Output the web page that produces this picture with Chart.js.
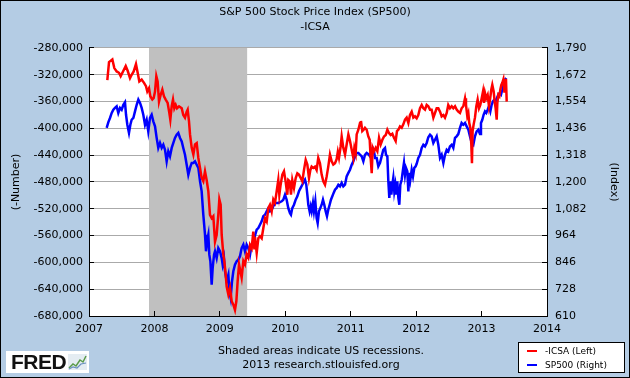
<!DOCTYPE html>
<html>
<head>
<meta charset="utf-8">
<script src="https://cdn.jsdelivr.net/npm/chart.js@4.4.1/dist/chart.umd.min.js"></script>
<style>
  body { margin: 0; }
  #wrap { position: relative; width: 630px; height: 378px; background: #B4CCE4; font-family: 'DejaVu Sans', sans-serif; overflow: hidden; }
  #chart { position: absolute; left: 0; top: 0; }
  #frame { position: absolute; left: 0; top: 0; width: 630px; height: 378px; box-sizing: border-box; border: 1px solid #000; pointer-events: none; }
  #note { position: absolute; left: 170px; top: 344px; width: 302px; text-align: center; font-size: 11px; line-height: 14px; color: #000; }
  #legend { position: absolute; left: 518px; top: 342px; width: 107px; height: 31px; box-sizing: border-box; background: #fff; border: 1px solid #000; font-size: 9px; color: #000; }
  #legend .row { position: absolute; left: 0; height: 12px; line-height: 12px; }
  #legend .sw { position: absolute; left: 8px; top: 5px; width: 10px; height: 2px; }
  #legend .tx { position: absolute; left: 26px; top: 0; white-space: nowrap; }
  #fred { position: absolute; left: 6px; top: 351px; width: 83px; height: 22px; background: #fff; }
  #fred span { position: absolute; left: 5px; top: -1px; font-family: 'Liberation Sans', sans-serif; font-weight: bold; font-size: 21px; letter-spacing: -0.5px; color: #111; }
  #fred svg { position: absolute; left: 62px; top: 3px; }
</style>
</head>
<body>
<div id="wrap">
  <canvas id="chart" width="630" height="378"></canvas>
  <div id="note">Shaded areas indicate US recessions.<br>2013 research.stlouisfed.org</div>
  <div id="legend">
    <div class="row" style="top:2px"><div class="sw" style="background:#FF0000"></div><div class="tx">-ICSA (Left)</div></div>
    <div class="row" style="top:16px"><div class="sw" style="background:#0000FF"></div><div class="tx">SP500 (Right)</div></div>
  </div>
  <div id="fred"><span>FRED</span>
    <svg width="19" height="16" viewBox="0 0 19 16">
      <rect x="0" y="0" width="19" height="16" fill="#E4ECF2"/>
      <polyline points="1,14 5,10 8,12 12,6 15,8 18,2" fill="none" stroke="#5A9A4A" stroke-width="1.5"/>
      <polyline points="1,15 5,13 9,14 13,10 18,9" fill="none" stroke="#6A8FC0" stroke-width="1.2"/>
    </svg>
  </div>
  <div id="frame"></div>
</div>
<script>
/* ================== CHART DEFAULTS ================== */
Chart.defaults.font.family = "'DejaVu Sans', sans-serif";
Chart.defaults.font.size = 11;
Chart.defaults.color = "#000";

/* ================== DATA ================== */
// weekly initial claims, shown negated (left axis)
const icsaDates = [
  2007.280, 2007.306, 2007.357, 2007.387, 2007.423, 2007.458, 2007.484, 2007.520, 2007.561, 2007.591,
  2007.627, 2007.652, 2007.683, 2007.718, 2007.744, 2007.769, 2007.805, 2007.841, 2007.871, 2007.891,
  2007.917, 2007.937, 2007.968, 2007.988, 2008.009, 2008.029, 2008.049, 2008.070, 2008.095, 2008.121,
  2008.146, 2008.172, 2008.202, 2008.228, 2008.243, 2008.264, 2008.284, 2008.304, 2008.325, 2008.345,
  2008.376, 2008.417, 2008.441, 2008.467, 2008.493, 2008.508, 2008.528, 2008.544, 2008.570, 2008.595,
  2008.620, 2008.646, 2008.671, 2008.697, 2008.722, 2008.747, 2008.773, 2008.798, 2008.824, 2008.849,
  2008.875, 2008.900, 2008.926, 2008.951, 2008.976, 2008.992, 2009.012, 2009.028, 2009.053, 2009.068,
  2009.089, 2009.104, 2009.130, 2009.155, 2009.181, 2009.206, 2009.231, 2009.252, 2009.272, 2009.293,
  2009.313, 2009.333, 2009.359, 2009.384, 2009.410, 2009.435, 2009.461, 2009.486, 2009.511, 2009.527,
  2009.537, 2009.563, 2009.588, 2009.613, 2009.639, 2009.664, 2009.690, 2009.716, 2009.741, 2009.766,
  2009.792, 2009.817, 2009.843, 2009.868, 2009.893, 2009.909, 2009.929, 2009.955, 2009.980, 2010.005,
  2010.031, 2010.046, 2010.067, 2010.087, 2010.107, 2010.133, 2010.159, 2010.184, 2010.209, 2010.235,
  2010.260, 2010.286, 2010.312, 2010.337, 2010.362, 2010.383, 2010.403, 2010.428, 2010.454, 2010.479,
  2010.504, 2010.530, 2010.556, 2010.581, 2010.607, 2010.632, 2010.657, 2010.683, 2010.709, 2010.734,
  2010.760, 2010.785, 2010.803, 2010.821, 2010.846, 2010.862, 2010.887, 2010.913, 2010.938, 2010.964,
  2010.989, 2011.015, 2011.040, 2011.056, 2011.076, 2011.091, 2011.117, 2011.142, 2011.157, 2011.177,
  2011.198, 2011.218, 2011.244, 2011.269, 2011.290, 2011.305, 2011.321, 2011.336, 2011.356, 2011.382,
  2011.407, 2011.433, 2011.458, 2011.484, 2011.509, 2011.535, 2011.560, 2011.585, 2011.611, 2011.636,
  2011.661, 2011.687, 2011.707, 2011.728, 2011.753, 2011.779, 2011.804, 2011.830, 2011.855, 2011.881,
  2011.906, 2011.932, 2011.957, 2011.982, 2012.008, 2012.033, 2012.059, 2012.085, 2012.110, 2012.135,
  2012.161, 2012.186, 2012.212, 2012.237, 2012.263, 2012.288, 2012.314, 2012.339, 2012.365, 2012.390,
  2012.416, 2012.441, 2012.467, 2012.491, 2012.517, 2012.543, 2012.568, 2012.594, 2012.619, 2012.644,
  2012.670, 2012.695, 2012.721, 2012.747, 2012.762, 2012.782, 2012.798, 2012.812, 2012.828, 2012.843,
  2012.853, 2012.863, 2012.879, 2012.899, 2012.920, 2012.940, 2012.961, 2012.981, 2013.002, 2013.022,
  2013.037, 2013.052, 2013.072, 2013.093, 2013.113, 2013.129, 2013.149, 2013.164, 2013.185, 2013.200,
  2013.215, 2013.231, 2013.241, 2013.256, 2013.272, 2013.287, 2013.302, 2013.317, 2013.333, 2013.348,
  2013.358, 2013.373, 2013.384
];
const icsaValues = [
  -328000, -301000, -297000, -310000, -315000, -317000, -322000, -315000, -307000, -314000,
  -325000, -320000, -315000, -304000, -317000, -330000, -327000, -332000, -337000, -345000,
  -340000, -352000, -357000, -355000, -345000, -322000, -330000, -360000, -350000, -342000,
  -352000, -357000, -362000, -377000, -387000, -367000, -357000, -370000, -365000, -370000,
  -367000, -370000, -380000, -384000, -375000, -372000, -389000, -409000, -429000, -439000,
  -424000, -422000, -444000, -459000, -474000, -479000, -464000, -477000, -494000, -529000,
  -534000, -531000, -569000, -559000, -529000, -506000, -514000, -559000, -588000, -598000,
  -618000, -636000, -648000, -638000, -658000, -663000, -671000, -658000, -628000, -603000,
  -613000, -623000, -598000, -603000, -588000, -593000, -574000, -579000, -554000, -579000,
  -562000, -586000, -564000, -561000, -564000, -549000, -534000, -539000, -519000, -514000,
  -524000, -506000, -511000, -494000, -477000, -499000, -484000, -469000, -464000, -479000,
  -499000, -477000, -479000, -499000, -477000, -489000, -474000, -467000, -469000, -474000,
  -479000, -462000, -447000, -454000, -474000, -462000, -457000, -459000, -457000, -462000,
  -444000, -452000, -469000, -479000, -484000, -472000, -457000, -439000, -449000, -454000,
  -452000, -446000, -435000, -444000, -427000, -412000, -429000, -439000, -424000, -409000,
  -419000, -432000, -444000, -429000, -437000, -409000, -402000, -392000, -389000, -404000,
  -402000, -399000, -402000, -412000, -417000, -444000, -467000, -429000, -434000, -429000,
  -434000, -414000, -424000, -417000, -412000, -410000, -402000, -407000, -410000, -408000,
  -414000, -419000, -404000, -402000, -397000, -399000, -394000, -387000, -384000, -392000,
  -380000, -375000, -384000, -382000, -385000, -380000, -370000, -365000, -370000, -372000,
  -365000, -367000, -372000, -372000, -384000, -377000, -370000, -370000, -375000, -382000,
  -380000, -384000, -377000, -365000, -370000, -367000, -370000, -367000, -372000, -375000,
  -377000, -370000, -367000, -355000, -365000, -382000, -377000, -392000, -399000, -424000,
  -452000, -404000, -394000, -384000, -367000, -357000, -370000, -365000, -355000, -345000,
  -362000, -347000, -355000, -350000, -367000, -357000, -342000, -335000, -345000, -360000,
  -370000, -387000, -362000, -350000, -352000, -342000, -335000, -332000, -327000, -345000,
  -337000, -326000, -360000
];

// S&P 500 index level (right axis)
const spDates = [
  2007.270, 2007.296, 2007.321, 2007.347, 2007.372, 2007.397, 2007.423, 2007.448, 2007.474, 2007.499,
  2007.525, 2007.550, 2007.566, 2007.586, 2007.611, 2007.632, 2007.652, 2007.678, 2007.703, 2007.729,
  2007.754, 2007.780, 2007.805, 2007.830, 2007.856, 2007.881, 2007.906, 2007.932, 2007.958, 2007.983,
  2008.009, 2008.034, 2008.059, 2008.085, 2008.111, 2008.136, 2008.162, 2008.187, 2008.212, 2008.238,
  2008.264, 2008.289, 2008.314, 2008.340, 2008.365, 2008.391, 2008.417, 2008.441, 2008.467, 2008.493,
  2008.518, 2008.544, 2008.570, 2008.595, 2008.620, 2008.646, 2008.671, 2008.697, 2008.722, 2008.747,
  2008.773, 2008.788, 2008.804, 2008.824, 2008.839, 2008.855, 2008.875, 2008.890, 2008.911, 2008.926,
  2008.951, 2008.976, 2009.002, 2009.028, 2009.043, 2009.063, 2009.079, 2009.104, 2009.130, 2009.145,
  2009.165, 2009.186, 2009.206, 2009.231, 2009.257, 2009.282, 2009.308, 2009.333, 2009.359, 2009.384,
  2009.410, 2009.435, 2009.461, 2009.486, 2009.511, 2009.537, 2009.563, 2009.588, 2009.613, 2009.639,
  2009.664, 2009.690, 2009.716, 2009.741, 2009.766, 2009.792, 2009.817, 2009.843, 2009.893, 2009.945,
  2009.970, 2009.996, 2010.021, 2010.046, 2010.072, 2010.087, 2010.107, 2010.133, 2010.159, 2010.184,
  2010.209, 2010.235, 2010.260, 2010.286, 2010.301, 2010.321, 2010.337, 2010.352, 2010.372, 2010.388,
  2010.403, 2010.423, 2010.438, 2010.459, 2010.479, 2010.495, 2010.515, 2010.535, 2010.556, 2010.576,
  2010.596, 2010.617, 2010.637, 2010.657, 2010.678, 2010.698, 2010.719, 2010.739, 2010.760, 2010.785,
  2010.811, 2010.836, 2010.862, 2010.887, 2010.913, 2010.938, 2010.964, 2010.989, 2011.015, 2011.040,
  2011.066, 2011.091, 2011.117, 2011.142, 2011.168, 2011.193, 2011.218, 2011.244, 2011.269, 2011.295,
  2011.321, 2011.336, 2011.356, 2011.372, 2011.397, 2011.422, 2011.448, 2011.473, 2011.498, 2011.524,
  2011.539, 2011.560, 2011.575, 2011.590, 2011.605, 2011.621, 2011.636, 2011.651, 2011.666, 2011.682,
  2011.697, 2011.712, 2011.728, 2011.743, 2011.758, 2011.779, 2011.799, 2011.814, 2011.830, 2011.845,
  2011.865, 2011.881, 2011.896, 2011.911, 2011.932, 2011.952, 2011.972, 2011.993, 2012.008, 2012.033,
  2012.059, 2012.085, 2012.110, 2012.135, 2012.161, 2012.186, 2012.212, 2012.237, 2012.263, 2012.288,
  2012.314, 2012.339, 2012.365, 2012.390, 2012.416, 2012.441, 2012.467, 2012.491, 2012.517, 2012.543,
  2012.568, 2012.594, 2012.619, 2012.644, 2012.670, 2012.695, 2012.721, 2012.747, 2012.772, 2012.798,
  2012.823, 2012.849, 2012.874, 2012.899, 2012.925, 2012.950, 2012.976, 2012.991, 2013.011, 2013.031,
  2013.052, 2013.072, 2013.093, 2013.113, 2013.134, 2013.154, 2013.174, 2013.195, 2013.215, 2013.235,
  2013.256, 2013.276, 2013.297, 2013.317, 2013.337, 2013.358, 2013.378
];
const spValues = [
  1438, 1464, 1482, 1504, 1518, 1526, 1533, 1504, 1526, 1518,
  1540, 1551, 1496, 1452, 1416, 1452, 1474, 1482, 1511, 1540,
  1563, 1548, 1526, 1496, 1452, 1474, 1423, 1482, 1496, 1467,
  1445, 1394, 1350, 1372, 1350, 1364, 1342, 1291, 1335, 1313,
  1350, 1372, 1394, 1408, 1416, 1394, 1379, 1350, 1320, 1276,
  1232, 1262, 1284, 1284, 1291, 1276, 1262, 1203, 1159, 1056,
  968, 895, 939, 968, 880, 851, 748, 821, 880, 895,
  865, 909, 895, 865, 836, 865, 807, 763, 792, 719,
  689, 763, 807, 836, 851, 858, 873, 909, 924, 895,
  924, 909, 880, 924, 939, 964, 990, 997, 1012, 1027,
  1049, 1056, 1071, 1085, 1071, 1078, 1093, 1108, 1108, 1115,
  1122, 1144, 1122, 1085, 1063, 1056, 1085, 1100, 1122, 1137,
  1159, 1174, 1188, 1203, 1210, 1188, 1144, 1100, 1071, 1093,
  1071, 1108, 1071, 1115, 1041, 1019, 1071, 1085, 1100, 1122,
  1100, 1071, 1049, 1078, 1100, 1122, 1137, 1152, 1166, 1174,
  1188, 1181, 1196, 1181, 1188, 1225, 1240, 1254, 1276, 1291,
  1313, 1328, 1328, 1320, 1313, 1291, 1320, 1328, 1323, 1313,
  1342, 1350, 1335, 1306, 1306, 1269, 1284, 1313, 1342, 1350,
  1320, 1313, 1203, 1130, 1203, 1144, 1188, 1218, 1159, 1188,
  1144, 1203, 1130, 1100, 1188, 1210, 1254, 1284, 1232, 1262,
  1247, 1159, 1240, 1210, 1254, 1225, 1262, 1269, 1280, 1306,
  1320, 1350, 1364, 1357, 1372, 1397, 1408, 1401, 1372, 1386,
  1401, 1364, 1306, 1320, 1284, 1320, 1342, 1335, 1357, 1364,
  1350, 1394, 1401, 1411, 1438, 1460, 1452, 1460, 1445, 1430,
  1401, 1372, 1364, 1401, 1423, 1430, 1411, 1460, 1474, 1496,
  1511, 1504, 1518, 1533, 1511, 1540, 1555, 1563, 1555, 1570,
  1585, 1592, 1585, 1607, 1636, 1651, 1658
];

// recession (Dec 2007 - Jun 2009)
const recessionStart = [2007.917];
const recessionEnd = [2009.417];

const chartTitle = ["S&P 500 Stock Price Index (SP500)", "-ICSA"];

/* ================== PLUGIN: plot background + recession bars ================== */
const shadingPlugin = {
  id: "shading",
  beforeDraw(chart) {
    const { ctx, chartArea: a } = chart;
    ctx.save();
    ctx.fillStyle = "#FFFFFF";
    ctx.fillRect(a.left, a.top, a.width, a.height);
    ctx.restore();
  },
  beforeDatasetsDraw(chart) {
    const { ctx, chartArea: a, scales } = chart;
    ctx.save();
    ctx.fillStyle = "#C0C0C0";
    recessionStart.forEach((s, i) => {
      const x1 = scales.x.getPixelForValue(s);
      const x2 = scales.x.getPixelForValue(recessionEnd[i]);
      ctx.fillRect(x1, a.top, x2 - x1, a.height);
    });
    ctx.restore();
  }
};

/* ================== CHART ================== */
new Chart(document.getElementById("chart"), {
  type: "line",
  data: {
    datasets: [
      {
        label: "-ICSA (Left)",
        data: icsaDates.map((d, i) => ({ x: d, y: icsaValues[i] })),
        yAxisID: "yLeft",
        borderColor: "#FF0000",
        borderWidth: 2.5,
        pointRadius: 0,
        tension: 0
      },
      {
        label: "SP500 (Right)",
        data: spDates.map((d, i) => ({ x: d, y: spValues[i] })),
        yAxisID: "yRight",
        borderColor: "#0000FF",
        borderWidth: 2.5,
        pointRadius: 0,
        tension: 0
      }
    ]
  },
  options: {
    responsive: false,
    animation: false,
    events: [],
    layout: { padding: 0 },
    plugins: {
      legend: { display: false },
      tooltip: { enabled: false },
      title: {
        display: true,
        text: chartTitle,
        font: { size: 11, weight: "normal", lineHeight: 1.3636 },
        color: "#000",
        padding: { top: 5, bottom: 13 }
      }
    },
    scales: {
      x: {
        type: "linear",
        min: 2007,
        max: 2014,
        afterFit: s => { s.height = 62; },
        ticks: { stepSize: 1, padding: 12, maxRotation: 0, callback: v => String(v) },
        grid: { drawOnChartArea: false, drawTicks: true, tickLength: -5, tickColor: "#000", z: 1 },
        border: { color: "#000", z: 1 }
      },
      yLeft: {
        type: "linear",
        position: "left",
        min: -680000,
        max: -280000,
        afterFit: s => { s.width = 89; },
        ticks: { stepSize: 40000, padding: 11 },
        grid: { color: "#AAAAAA", tickColor: "#000", tickLength: -5 },
        border: { color: "#000" },
        title: { display: true, text: "(-Number)", font: { size: 11 }, padding: { top: 10, bottom: 0 } }
      },
      yRight: {
        type: "linear",
        position: "right",
        min: 610,
        max: 1790,
        afterFit: s => { s.width = 83; },
        ticks: { stepSize: 118, padding: 13 },
        grid: { drawOnChartArea: false, tickColor: "#000", tickLength: -5 },
        border: { color: "#000" },
        title: { display: true, text: "(Index)", font: { size: 11 }, padding: { top: 10, bottom: 0 } }
      }
    }
  },
  plugins: [shadingPlugin]
});
</script>
</body>
</html>
